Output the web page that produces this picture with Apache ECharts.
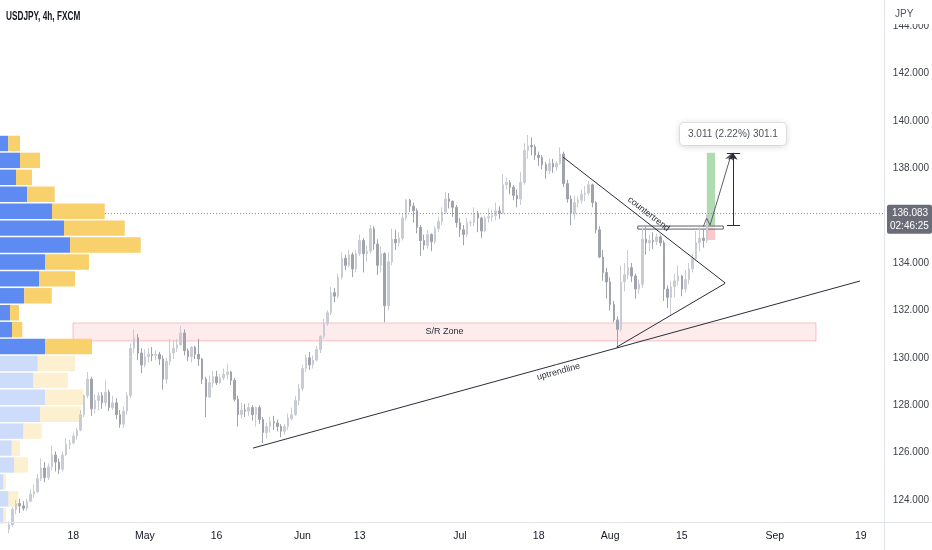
<!DOCTYPE html>
<html><head><meta charset="utf-8">
<script src="https://cdn.jsdelivr.net/npm/echarts@6/dist/echarts.min.js"></script>
<style>html,body{margin:0;padding:0;background:#fff}#c{width:932px;height:550px}</style>
</head><body><div id="c"></div>
<script>
// ---------------- data ----------------
const title = 'USDJPY, 4h, FXCM';
const currencyLabel = 'JPY';
const startDate = '2022-04-04';   // first trading day on the left edge
const slotCount = 247;            // half-day slots on the time axis
const tickDates  = ['2022-04-18','2022-05-02','2022-05-16','2022-06-01','2022-06-13','2022-07-01','2022-07-18','2022-08-01','2022-08-15','2022-09-01','2022-09-19'];
const tickLabels = ['18','May','16','Jun','13','Jul','18','Aug','15','Sep','19'];
const priceMinLabel = 124, priceMaxLabel = 144, priceStep = 2;

// half-day candles [open, close, low, high]
const ohlc = [
[122.45,122.60,122.25,122.75],[122.60,122.75,122.45,122.95],
[122.75,122.95,122.60,123.10],[122.95,123.60,122.85,123.70],
[123.60,123.85,123.40,124.00],[123.85,123.75,123.45,124.05],
[123.75,123.65,123.55,123.95],[123.65,123.95,123.55,124.05],
[123.95,124.25,123.90,124.45],[124.25,124.35,124.10,124.65],
[124.35,124.90,124.30,125.10],[124.90,125.35,124.80,125.75],
[125.35,124.95,124.75,125.60],[124.95,125.40,124.85,125.55],
[125.40,125.90,125.25,126.30],[125.90,125.60,125.20,126.05],
[125.60,125.30,125.10,125.75],[125.30,125.90,125.20,126.05],
[125.90,126.35,125.85,126.60],[126.35,126.40,126.15,126.55],
[126.40,126.70,126.35,126.85],[126.70,126.95,126.55,127.05],
[126.95,127.60,126.90,127.80],[127.60,128.40,127.50,128.45],
[128.40,129.10,128.30,129.40],[129.10,127.85,127.55,129.20],
[127.85,128.20,127.65,128.45],[128.20,128.40,127.80,128.55],
[128.40,128.10,127.85,128.55],[128.10,128.55,127.95,129.05],
[128.55,127.90,127.75,128.65],[127.90,128.10,127.80,128.40],
[128.10,127.60,127.40,128.30],[127.60,127.20,127.05,127.80],
[127.20,127.75,127.05,127.95],[127.75,128.40,127.60,128.55],
[128.40,130.40,128.30,130.60],[130.40,130.85,130.20,131.20],
[130.85,130.20,129.90,131.00],[130.20,129.70,129.35,130.40],
[129.70,130.05,129.60,130.35],[130.05,130.15,129.80,130.40],
[130.15,130.10,129.85,130.45],[130.10,130.15,129.90,130.30],
[130.15,129.95,129.70,130.25],[129.95,129.10,128.65,130.10],
[129.10,129.85,128.90,130.00],[129.85,130.20,129.70,130.80],
[130.20,130.40,129.95,130.75],[130.40,130.55,130.25,130.80],
[130.55,131.05,130.50,131.35],[131.05,130.30,130.10,131.20],
[130.30,130.05,129.85,130.40],[130.05,130.45,129.80,130.50],
[130.45,130.15,129.95,130.50],[130.15,129.95,129.65,130.80],
[129.95,129.10,128.90,130.00],[129.10,128.35,127.50,129.20],
[128.35,128.95,128.30,129.25],[128.95,129.20,128.75,129.45],
[129.20,128.95,128.85,129.45],[128.95,129.15,128.90,129.30],
[129.15,129.30,129.05,129.55],[129.30,129.40,129.10,129.75],
[129.40,129.05,128.85,129.45],[129.05,128.25,128.15,129.15],
[128.25,127.60,127.10,128.40],[127.60,127.80,127.45,128.10],
[127.80,127.75,127.50,128.05],[127.75,127.90,127.55,128.10],
[127.90,127.60,127.35,128.00],[127.60,127.90,127.10,127.95],
[127.90,127.40,127.20,128.00],[127.40,126.85,126.40,127.50],
[126.85,127.10,126.60,127.25],[127.10,127.30,126.85,127.50],
[127.30,127.25,126.95,127.55],[127.25,127.10,126.90,127.40],
[127.10,126.90,126.65,127.20],[126.90,127.10,126.75,127.20],
[127.10,127.45,126.95,127.65],[127.45,127.60,127.35,127.90],
[127.60,128.20,127.55,128.40],[128.20,128.70,128.00,128.90],
[128.70,129.55,128.60,129.70],[129.55,130.00,129.40,130.15],
[130.00,129.70,129.50,130.25],[129.70,129.90,129.55,130.10],
[129.90,130.35,129.85,130.50],[130.35,130.90,130.20,130.95],
[130.90,131.45,130.80,131.65],[131.45,131.90,131.35,132.00],
[131.90,132.75,131.80,133.00],[132.75,132.60,132.35,132.95],
[132.60,133.40,132.50,133.55],[133.40,134.20,133.30,134.45],
[134.20,133.90,133.70,134.35],[133.90,134.35,133.80,134.55],
[134.35,133.75,133.40,134.45],[133.75,134.40,133.60,134.55],
[134.40,134.95,134.30,135.20],[134.95,134.40,133.60,135.05],
[134.40,134.50,134.05,134.75],[134.50,135.45,134.40,135.60],
[135.45,134.80,134.55,135.55],[134.80,133.90,133.50,135.00],
[133.90,134.40,133.60,134.70],[134.40,132.20,131.50,134.45],
[132.20,134.05,132.00,134.45],[134.05,135.00,133.90,135.45],
[135.00,134.85,134.55,135.40],[134.85,135.05,134.70,135.30],
[135.05,135.90,134.95,136.10],[135.90,136.65,135.80,136.70],
[136.65,136.40,136.15,136.70],[136.40,136.20,135.70,136.55],
[136.20,135.50,135.25,136.30],[135.50,134.95,134.30,135.60],
[134.95,134.75,134.55,135.20],[134.75,135.20,134.60,135.40],
[135.20,134.90,134.50,135.25],[134.90,135.45,134.80,135.55],
[135.45,135.75,135.30,135.95],[135.75,136.15,135.60,136.35],
[136.15,136.70,136.05,137.00],[136.70,136.60,136.30,136.95],
[136.60,136.35,135.95,136.65],[136.35,135.70,135.50,136.45],
[135.70,135.40,135.10,135.90],[135.40,135.20,134.75,135.60],
[135.20,135.70,135.10,135.90],[135.70,135.70,135.55,135.80],
[135.70,136.10,135.55,136.35],[136.10,135.90,135.30,136.20],
[135.90,135.35,135.05,135.95],[135.35,135.90,135.30,136.00],
[135.90,135.95,135.70,136.30],[135.95,136.00,135.75,136.25],
[136.00,136.20,135.80,136.55],[136.20,136.10,135.85,136.40],
[136.10,137.30,136.05,137.75],[137.30,137.40,137.10,137.60],
[137.40,137.20,136.90,137.50],[137.20,136.85,136.65,137.30],
[136.85,136.70,136.35,137.10],[136.70,137.40,136.45,137.85],
[137.40,138.75,137.30,139.05],[138.75,138.95,138.40,139.40],
[138.95,138.90,138.55,139.30],[138.90,138.55,138.35,139.00],
[138.55,138.45,138.10,138.70],[138.45,138.15,137.95,138.55],
[138.15,137.90,137.55,138.25],[137.90,138.20,137.75,138.40],
[138.20,138.05,137.80,138.40],[138.05,138.20,137.90,138.30],
[138.20,138.60,138.15,138.88],[138.60,137.35,137.20,138.70],
[137.35,136.70,136.55,137.50],[136.70,136.10,135.60,136.85],
[136.10,136.55,135.85,136.85],[136.55,136.65,136.35,136.80],
[136.65,136.90,136.50,137.10],[136.90,136.95,136.60,137.25],
[136.95,137.30,136.85,137.46],[137.30,136.55,136.35,137.35],
[136.55,135.40,135.25,136.60],[135.40,134.25,134.20,135.55],
[134.25,133.60,133.25,134.55],[133.60,133.20,132.50,133.80],
[133.20,132.25,132.00,133.40],[132.25,131.60,131.50,132.40],
[131.60,131.20,130.40,131.75],[131.20,133.20,131.10,133.90],
[133.20,133.50,132.80,134.00],[133.50,133.80,133.30,134.55],
[133.80,133.45,133.20,134.00],[133.45,132.90,132.50,133.55],
[132.90,133.10,132.70,133.30],[133.10,135.00,132.95,135.50],
[135.00,134.85,134.35,135.55],[134.85,134.95,134.50,135.20],
[134.95,134.90,134.60,135.30],[134.90,135.10,134.75,135.25],
[135.10,134.85,134.70,135.20],[134.85,132.90,132.40,134.95],
[132.90,132.55,132.10,133.05],[132.55,133.00,131.75,133.25],
[133.00,133.25,132.55,133.55],[133.25,133.45,133.05,133.90],
[133.45,132.90,132.60,133.50],[132.90,133.30,132.75,133.70],
[133.30,133.75,133.10,134.00],[133.75,134.20,133.60,134.40],
[134.20,134.85,134.10,135.35],[134.85,135.05,134.50,135.50],
[135.05,134.95,134.65,135.40],[134.95,135.80,134.85,136.05],
[135.80,136.08,135.65,136.25]
];
const lastPrice = 136.083;
const countdown = '02:46:25';

// visible-range volume profile rows (top to bottom): up volume, down volume
const vpUp   = [8.3,20,16,27.3,52,64,70,45,39,24.3,10,12,45,37.7,33.3,45,40,23.3,11.7,14,3.3,8.3,3.3];
const vpDown = [11.7,20,16,27.4,52.7,60.7,70.7,44,36,27.4,9,10.3,47,37.3,34.4,38.3,40.7,18.4,8.3,14,2.7,10,2.7];
const vpTopPrice = 139.40, vpRowSize = 0.714, vpValueAreaRows = 13;

// drawings: [slot, price]
const srZone        = {x0: 19.9, x1: 227.5, top: 131.47, bottom: 130.71, text: 'S/R Zone'};
const uptrend       = [[70.2, 126.19], [239.8, 133.24]];
const countertrend  = [[156.8, 138.47], [202.1, 133.16]];
const lowerTriangle = [[171.8, 130.45], [202.1, 133.14]];
const breakoutBox   = {x0: 177.7, x1: 201.6, top: 135.56, bottom: 135.43};
const targetZone    = {x0: 197.0, x1: 199.3, top: 138.65, bottom: 135.60};
const stopZone      = {x0: 197.0, x1: 199.3, top: 135.60, bottom: 134.97};
const projection    = [[196.0, 135.53], [196.95, 135.89], [197.9, 135.60], [203.9, 138.63]];
const measure       = {x: 204.3, from: 135.60, to: 138.65, capL: 202.6, capR: 206.3};
const measureText   = {x: 204.3, y: 139.44, text: '3.011 (2.22%) 301.1'};

// ---------------- layout ----------------
const PLOT_W = 884, AXIS_Y = 522, PX = 23.7, Y124 = 500;
const yMin = 124 - (AXIS_Y - Y124) / PX, yMax = 124 + Y124 / PX;
const FONT = '"Liberation Sans",Arial,sans-serif';

const cats = [];
{
  const d = new Date(startDate + 'T00:00:00Z');
  while (cats.length < slotCount) {
    const wd = d.getUTCDay();
    if (wd !== 0 && wd !== 6) {
      const s = d.toISOString().slice(0, 10);
      cats.push(s + '|0');
      if (cats.length < slotCount) cats.push(s + '|1');
    }
    d.setUTCDate(d.getUTCDate() + 1);
  }
}
const tickMap = {};
tickDates.forEach((t, k) => { tickMap[t + '|0'] = tickLabels[k]; });

const vpTopY = Y124 - (vpTopPrice - 124) * PX;
const vpRowPx = vpRowSize * PX;
const blueSolid = '#5d8bf2', blueFade = 'rgba(93,139,242,0.3)';
const yellowSolid = '#f8d06c', yellowFade = 'rgba(248,208,108,0.32)';

const lineStyleDark = {color: '#2a2e39', width: 1, type: 'solid'};
const seg = (a, b, extra) => [Object.assign({coord: a, symbol: 'none'}, extra || {}), {coord: b, symbol: 'none'}];
const lblStyle = {fontSize: 9, color: '#2a2e39', fontFamily: FONT};

const chart = echarts.init(document.getElementById('c'), null, {renderer: 'canvas'});
chart.setOption({
  animation: false,
  backgroundColor: '#ffffff',
  textStyle: {fontFamily: FONT},
  grid: [
    {left: 0, top: 0, width: PLOT_W, height: AXIS_Y},
    {left: 0, top: Y124 - (priceMaxLabel - 124) * PX, width: PLOT_W, height: (priceMaxLabel - priceMinLabel) * PX},
    {left: 0, top: vpTopY, width: 200, height: vpRowPx * vpUp.length}
  ],
  xAxis: [
    {type: 'category', gridIndex: 0, data: cats, boundaryGap: true,
     axisLine: {show: false}, axisTick: {show: false}, splitLine: {show: false},
     axisLabel: {interval: (i, v) => tickMap[v] !== undefined, formatter: v => tickMap[v] || '',
                 margin: 9, fontSize: 10.5, color: '#131722', hideOverlap: false}},
    {type: 'value', gridIndex: 0, min: -0.5, max: slotCount - 0.5, show: false},
    {type: 'value', gridIndex: 1, show: false},
    {type: 'value', gridIndex: 2, min: 0, max: 200, show: false}
  ],
  yAxis: [
    {type: 'value', gridIndex: 0, min: yMin, max: yMax, show: false, splitLine: {show: false}},
    {type: 'value', gridIndex: 1, position: 'right', min: priceMinLabel, max: priceMaxLabel, interval: priceStep,
     axisLine: {show: false}, axisTick: {show: false}, splitLine: {show: false},
     axisLabel: {formatter: v => v.toFixed(3), fontSize: 10, color: '#3c3f4a', margin: 9}},
    {type: 'category', gridIndex: 2, inverse: true, data: vpUp.map((_, k) => 'r' + k), show: false}
  ],
  series: [
    {type: 'candlestick', name: 'USDJPY', xAxisIndex: 0, yAxisIndex: 0, data: ohlc, barWidth: 2, clip: true, z: 2,
     itemStyle: {color: '#c9ccd3', color0: '#a0a3ab', borderColor: '#c9ccd3', borderColor0: '#a0a3ab', borderWidth: 1}},
    {type: 'line', name: 'drawings', xAxisIndex: 1, yAxisIndex: 0, data: [], z: 4, silent: true,
     markArea: {silent: true, data: [
       [{coord: [srZone.x0, srZone.top], itemStyle: {color: 'rgba(242,54,69,0.10)', borderColor: 'rgba(242,54,69,0.28)', borderWidth: 1},
         label: {show: true, position: 'inside', formatter: srZone.text, fontSize: 9, color: '#2a2e39', fontFamily: FONT}},
        {coord: [srZone.x1, srZone.bottom]}],
       [{coord: [targetZone.x0, targetZone.top], itemStyle: {color: 'rgba(76,175,80,0.45)', borderWidth: 0}, label: {show: false}},
        {coord: [targetZone.x1, targetZone.bottom]}],
       [{coord: [stopZone.x0, stopZone.top], itemStyle: {color: 'rgba(242,54,69,0.28)', borderWidth: 0}, label: {show: false}},
        {coord: [stopZone.x1, stopZone.bottom]}],
       [{coord: [breakoutBox.x0, breakoutBox.top], itemStyle: {color: 'rgba(255,255,255,0.5)', borderColor: '#5d606b', borderWidth: 1}, label: {show: false}},
        {coord: [breakoutBox.x1, breakoutBox.bottom]}]
     ]},
     markLine: {silent: true, symbol: ['none', 'none'], symbolSize: 7, animation: false,
       lineStyle: lineStyleDark, label: {show: false},
       emphasis: {disabled: true},
       data: [
        {yAxis: lastPrice, lineStyle: {type: [1, 2], color: '#8f929b', width: 1}, label: {show: false}},
        seg(uptrend[0], uptrend[1], {lineStyle: lineStyleDark,
            label: Object.assign({show: true, formatter: 'uptrendline', position: 'insideMiddleBottom', distance: 3}, lblStyle)}),
        seg(countertrend[0], countertrend[1], {lineStyle: lineStyleDark,
            label: Object.assign({show: true, formatter: 'countertrend', position: 'insideMiddleTop', distance: 3}, lblStyle)}),
        seg(lowerTriangle[0], lowerTriangle[1], {lineStyle: lineStyleDark}),
        seg(projection[0], projection[1], {lineStyle: {color: '#5d606b', width: 1}}),
        seg(projection[1], projection[2], {lineStyle: {color: '#5d606b', width: 1}}),
        [{coord: projection[2], symbol: 'none', lineStyle: {color: '#5d606b', width: 1}}, {coord: projection[3], symbol: 'arrow', symbolSize: 7}],
        [{coord: [measure.x, measure.from], symbol: 'none', lineStyle: {color: '#2a2e39', width: 1}}, {coord: [measure.x, measure.to], symbol: 'arrow', symbolSize: 7}],
        seg([measure.capL, measure.from], [measure.capR, measure.from], {lineStyle: {color: '#2a2e39', width: 1}}),
        seg([measure.capL, measure.to], [measure.capR, measure.to], {lineStyle: {color: '#2a2e39', width: 1}})
       ]},
     markPoint: {silent: true, symbol: 'circle', symbolSize: 1, itemStyle: {color: 'rgba(0,0,0,0)'},
       data: [{coord: [measureText.x, measureText.y], value: measureText.text,
         label: {show: true, position: 'inside', formatter: measureText.text, fontSize: 10, color: '#50535e', fontFamily: FONT,
                 backgroundColor: '#ffffff', borderColor: '#e6e8ee', borderWidth: 1, borderRadius: 4, padding: [6, 8],
                 shadowColor: 'rgba(0,0,0,0.12)', shadowBlur: 6, shadowOffsetY: 1}}]}
    },
    {type: 'bar', name: 'up volume', xAxisIndex: 3, yAxisIndex: 2, stack: 'vp', barWidth: vpRowPx - 1.5, z: 6, silent: true,
     data: vpUp.map((v, k) => ({value: v, itemStyle: {color: k < vpValueAreaRows ? blueSolid : blueFade}}))},
    {type: 'bar', name: 'down volume', xAxisIndex: 3, yAxisIndex: 2, stack: 'vp', barWidth: vpRowPx - 1.5, z: 6, silent: true,
     data: vpDown.map((v, k) => ({value: v, itemStyle: {color: k < vpValueAreaRows ? yellowSolid : yellowFade}}))}
  ]
});

const py = chart.convertToPixel({yAxisIndex: 0}, lastPrice);
chart.setOption({
  graphic: [
    {type: 'line', shape: {x1: PLOT_W + 0.5, y1: 0, x2: PLOT_W + 0.5, y2: 550}, style: {stroke: '#e0e3eb', lineWidth: 1}, z: 10, silent: true},
    {type: 'line', shape: {x1: 0, y1: AXIS_Y + 0.5, x2: 932, y2: AXIS_Y + 0.5}, style: {stroke: '#e0e3eb', lineWidth: 1}, z: 10, silent: true},
    {type: 'text', x: 6, y: 10, scaleX: 0.66, style: {text: title, font: 'bold 12.5px ' + FONT, fill: '#131722'}, z: 10, silent: true},
    {type: 'rect', shape: {x: PLOT_W + 1, y: 0, width: 932 - PLOT_W - 1, height: 24}, style: {fill: '#ffffff'}, z: 20, silent: true},
    {type: 'text', x: 895, y: 9, style: {text: currencyLabel, font: '10px ' + FONT, fill: '#50535e'}, z: 21, silent: true},
    {type: 'rect', shape: {x: PLOT_W + 3, y: py - 9, width: 932 - PLOT_W - 3, height: 29, r: 2}, style: {fill: '#6a6d78'}, z: 20, silent: true},
    {type: 'text', x: PLOT_W + 8, y: py - 5, style: {text: lastPrice.toFixed(3), font: '10px ' + FONT, fill: '#ffffff'}, z: 21, silent: true},
    {type: 'text', x: PLOT_W + 6, y: py + 8, style: {text: countdown, font: '10px ' + FONT, fill: '#ffffff'}, z: 21, silent: true}
  ]
});
</script>
</body></html>
